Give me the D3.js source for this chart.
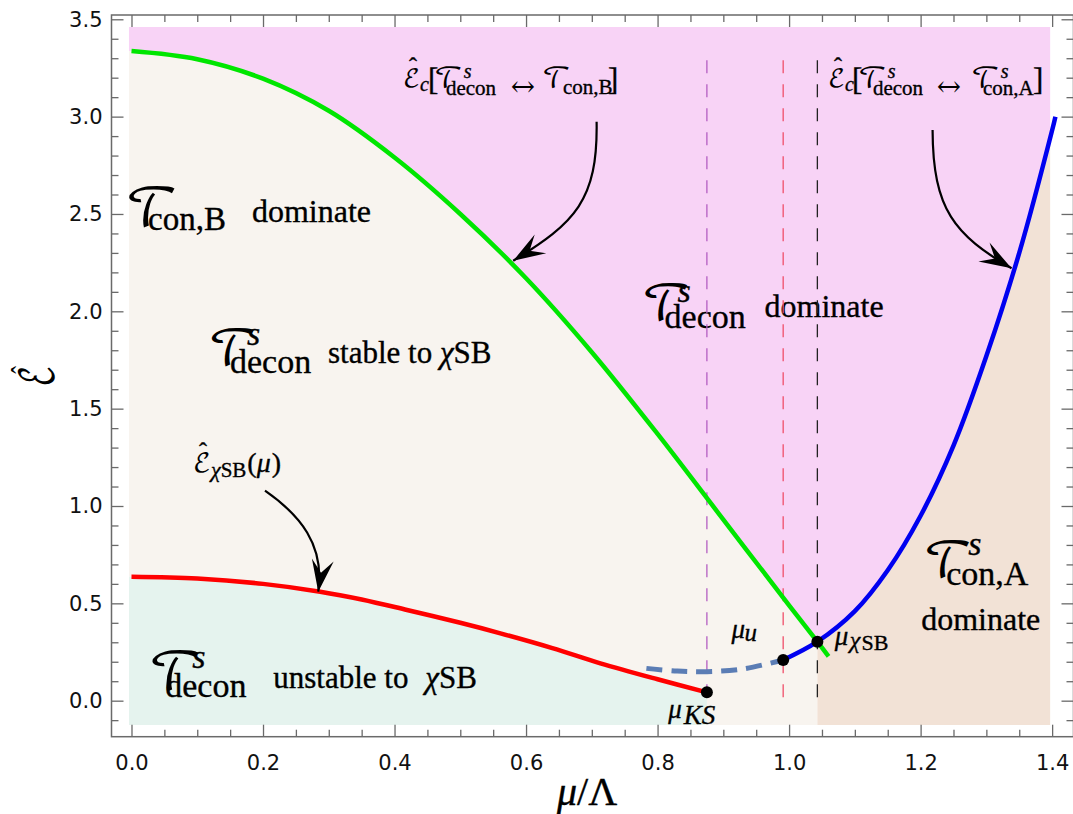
<!DOCTYPE html>
<html>
<head>
<meta charset="utf-8">
<script src="https://cdn.jsdelivr.net/npm/d3@7"></script>
<style>
  body { margin: 0; background: #fff; }
</style>
</head>
<body>
<svg id="chart" width="1073" height="814"></svg>
<script>
// Phase boundaries in the (mu/Lambda, E-hat) plane
const greenMu = [0, 0.1, 0.2, 0.3, 0.4, 0.5, 0.6, 0.7, 0.8, 0.9, 1.0, 1.043, 1.06];
const greenE  = [3.337, 3.295, 3.195, 3.03, 2.79, 2.50, 2.17, 1.79, 1.37, 0.93, 0.49, 0.303, 0.228];
const blueMu  = [0.991, 1.043, 1.1, 1.15, 1.2, 1.25, 1.3, 1.35, 1.4, 1.405];
const blueE   = [0.209, 0.303, 0.46, 0.67, 0.95, 1.31, 1.77, 2.30, 2.93, 3.0];
const redMu   = [0, 0.1, 0.2, 0.287, 0.35, 0.419, 0.5, 0.561, 0.64, 0.713, 0.8, 0.875];
const redE    = [0.637, 0.628, 0.60, 0.56, 0.52, 0.466, 0.40, 0.346, 0.27, 0.192, 0.11, 0.043];
const dashMu  = [0.783, 0.83, 0.875, 0.93, 0.991];
const dashE   = [0.166, 0.152, 0.149, 0.163, 0.209];
// special points mu_KS, mu_u, mu_chiSB
const pointMu = [0.875, 0.991, 1.043];
const pointE  = [0.043, 0.209, 0.303];
const guideMu = [0.875, 0.991, 1.043];
const guideTop = 3.29;
// extent of the shaded phase regions
const regionLeft = -0.004, regionRight = 1.397, regionTop = 3.46, regionBottom = -0.125;
// axis ticks
const xTicks = [0, 0.2, 0.4, 0.6, 0.8, 1.0, 1.2, 1.4];
const xTickLabels = ["0.0", "0.2", "0.4", "0.6", "0.8", "1.0", "1.2", "1.4"];
const yTicks = [0, 0.5, 1.0, 1.5, 2.0, 2.5, 3.0, 3.5];
const yTickLabels = ["0.0", "0.5", "1.0", "1.5", "2.0", "2.5", "3.0", "3.5"];
const xMinor = d3.range(0, 29).map(i => +(i * 0.05).toFixed(2)).filter(v => !xTicks.includes(v));
const yMinor = d3.range(-1, 36).map(i => +(i * 0.1).toFixed(1)).filter(v => !yTicks.includes(v));
// annotation arrows: cubic Bezier control points (mu, E)
const arrowCurves = [
  [[0.7073, 2.974], [0.7093, 2.569], [0.6743, 2.455], [0.5805, 2.260]],
  [[1.2182, 2.931], [1.2186, 2.520], [1.2521, 2.392], [1.3383, 2.221]],
  [[0.2030, 1.079], [0.2562, 0.954], [0.2942, 0.800], [0.2840, 0.560]]
];

const svg = d3.select("#chart");
const x = d3.scaleLinear().domain([-0.0304, 1.4325]).range([111.5, 1073.5]);
const y = d3.scaleLinear().domain([-0.185, 3.522]).range([736.7, 15]);

const zip = (a, b) => a.map((v, i) => [v, b[i]]);
const green = zip(greenMu, greenE);
const blue = zip(blueMu, blueE);
const red = zip(redMu, redE);
const dashed = zip(dashMu, dashE);
const kink = 1.043;
const greenLeft = green.filter(d => d[0] <= kink);
const blueRight = blue.filter(d => d[0] >= kink);

const line = d3.line().x(d => x(d[0])).y(d => y(d[1])).curve(d3.curveCatmullRom.alpha(0.5));

// ---- shaded regions ----
svg.append("clipPath").attr("id", "regionClip").append("rect")
  .attr("x", x(regionLeft)).attr("y", y(regionTop))
  .attr("width", x(regionRight) - x(regionLeft)).attr("height", y(regionBottom) - y(regionTop));
const regions = svg.append("g").attr("clip-path", "url(#regionClip)");

function areaPath(upper, closing) {
  // smooth upper boundary, then straight closing segments
  const p = line(upper);
  return p + closing.map(d => `L${x(d[0])},${y(d[1])}`).join("") + "Z";
}
// T_decon dominates (above green and blue)
regions.append("path").attr("fill", "#f8d3f6")
  .attr("d", areaPath(greenLeft.concat(blueRight.slice(1)),
    [[1.45, blueRight[blueRight.length - 1][1]], [1.45, regionTop], [regionLeft, regionTop], [regionLeft, greenLeft[0][1]]]));
// T_decon stable (below green, above red)
regions.append("path").attr("fill", "#f8f4ef")
  .attr("d", areaPath(greenLeft,
    [[kink, regionBottom], [redMu[redMu.length - 1], regionBottom]].concat(red.slice().reverse()).concat([[regionLeft, redE[0]], [regionLeft, greenE[0]]])));
// T_decon unstable (below red)
regions.append("path").attr("fill", "#e5f3ee")
  .attr("d", areaPath(red, [[redMu[redMu.length - 1], regionBottom], [regionLeft, regionBottom], [regionLeft, redE[0]]]));
// T_con,A dominates (below blue, right of mu_chiSB)
regions.append("path").attr("fill", "#f2e2d6")
  .attr("d", areaPath(blueRight, [[1.45, blueRight[blueRight.length - 1][1]], [1.45, regionBottom], [kink, regionBottom]]));

// ---- text labels ----
const fam = {
  r: "Liberation Serif, Times New Roman, serif",
  i: "Liberation Serif, Times New Roman, serif",
  m: "DejaVu Math TeX Gyre, STIX Two Math, DejaVu Serif, serif"
};
const T = "\u{1D4AF}", E = "\u2130", HAT = "\u02C6";
// pieces: [dx, dy, text, size, style]; dx "+k" continues after the previous piece,
// "b+k" continues after the last script glyph
function label(mu, e, pieces) {
  const g = svg.append("g").attr("transform", `translate(${x(mu)},${y(e)})`);
  let end = 0, baseEnd = 0;
  pieces.forEach(([dx, dy, t, size, st]) => {
    let px = dx;
    if (typeof dx === "string") px = (dx[0] === "b" ? baseEnd : end) + (+dx.slice(1) || 0);
    const el = g.append("text").attr("x", px).attr("y", dy)
      .style("font-size", size + "px").style("font-family", fam[st])
      .style("font-style", st === "i" ? "italic" : "normal")
      .attr("fill", "#000").attr("stroke", "#000").attr("stroke-width", st === "m" ? 0 : 0.35)
      .text(t);
    end = px + el.node().getComputedTextLength();
    if (st === "m") baseEnd = end;
  });
  return g;
}
label(-0.0099, 2.438, [[0, 0, T, 52, "m"], [23, 4, "con,B", 33, "r"], [127, -4, "dominate", 32, "r"]]);
label(0.1163, 1.724, [[0, 0, T, 48, "m"], [39, -20, "s", 34, "i"], [22, 8, "decon", 34, "r"],
  [120, -2, "stable to", 31, "r"], [232, -2, "\u03C7", 31, "i"], ["+", -2, "SB", 31, "r"]]);
label(0.0255, 0.055, [[0, 0, T, 52, "m"], [44, -22, "s", 34, "i"], [17, 7, "decon", 34, "r"],
  [125, -2, "unstable to", 31, "r"], [277, -2, "\u03C7", 31, "i"], ["+", -2, "SB", 31, "r"]]);
label(0.7757, 1.955, [[0, 0, T, 48, "m"], [36, -18, "s", 34, "i"], [23, 8, "decon", 34, "r"], [123, -3, "dominate", 32, "r"]]);
label(1.2039, 0.635, [[0, 0, T, 48, "m"], [45, -22, "s", 34, "i"], [23, 8, "con,A", 34, "r"], [-2, 53, "dominate", 32, "r"]]);
label(0.4128, 3.147, [[0, -1, E, 25, "m"], [6, -14, HAT, 24, "r"], [17, 3, "c", 20, "i"], [25, 2, "[", 31, "r"],
  [31, 0, T, 28, "m"], ["b+1", -10, "s", 20, "i"], [43, 7, "decon", 21, "r"], [107, 6, "\u2194", 26, "m"],
  [139, 0, T, 28, "m"], [160, 6, "con,B", 21, "r"], [205, 2, "]", 31, "r"]]);
label(1.0590, 3.147, [[0, -1, E, 25, "m"], [6, -14, HAT, 24, "r"], [17, 3, "c", 20, "i"], [24, 2, "[", 31, "r"],
  [30, 0, T, 28, "m"], ["b+1", -10, "s", 20, "i"], [45, 7, "decon", 21, "r"], [108, 6, "\u2194", 26, "m"],
  [143, 0, T, 28, "m"], ["b+1", -10, "s", 20, "i"], [155, 7, "con,A", 21, "r"], [205, 2, "]", 31, "r"]]);
label(0.0935, 1.176, [[0, 0, E, 26, "m"], [6, -13, HAT, 24, "r"], [18, 5, "\u03C7", 22, "i"], ["+", 5, "SB", 21, "r"],
  ["+1", 0, "(", 28, "r"], ["+", 0, "\u03BC", 28, "i"], ["+1", 0, ")", 28, "r"]]);
label(0.9126, 0.322, [[0, 0, "\u03BC", 27, "i"], [13, 3, "u", 25, "i"]]);
label(1.0696, 0.285, [[0, 0, "\u03BC", 27, "i"], [15, 3, "\u03C7", 24, "i"], ["+1", 5, "SB", 22, "r"]]);
label(0.8162, -0.089, [[0, 0, "\u03BC", 27, "i"], ["+2", 6, "KS", 27, "i"]]);

// ---- vertical guides ----
const guideColors = ["#b35ec2", "#f0506a", "#222222"];
svg.append("g").selectAll("line").data(guideMu).join("line")
  .attr("x1", d => x(d)).attr("x2", d => x(d))
  .attr("y1", y(guideTop)).attr("y2", y(0))
  .attr("stroke", (d, i) => guideColors[i]).attr("stroke-width", 1.3)
  .attr("stroke-dasharray", "13,11");

// ---- curves ----
svg.append("path").attr("d", line(red)).attr("fill", "none").attr("stroke", "#ff0000").attr("stroke-width", 4.5);
svg.append("path").attr("d", line(dashed)).attr("fill", "none").attr("stroke", "#5b7db5")
  .attr("stroke-width", 5).attr("stroke-dasharray", "16,9");
svg.append("path").attr("d", line(blue)).attr("fill", "none").attr("stroke", "#0000f0").attr("stroke-width", 4.5);
svg.append("path").attr("d", line(green)).attr("fill", "none").attr("stroke", "#00e600").attr("stroke-width", 4.5);

svg.append("g").selectAll("circle").data(zip(pointMu, pointE)).join("circle")
  .attr("cx", d => x(d[0])).attr("cy", d => y(d[1])).attr("r", 6).attr("fill", "#000");

// ---- arrows ----
const ag = svg.append("g");
arrowCurves.forEach(c => {
  const p = c.map(d => [x(d[0]), y(d[1])]);
  const path = d3.path();
  path.moveTo(p[0][0], p[0][1]);
  path.bezierCurveTo(p[1][0], p[1][1], p[2][0], p[2][1], p[3][0], p[3][1]);
  ag.append("path").attr("d", path.toString()).attr("fill", "none").attr("stroke", "#000").attr("stroke-width", 2.2);
  const ang = Math.atan2(p[3][1] - p[2][1], p[3][0] - p[2][0]) * 180 / Math.PI;
  const L = 32, W = 22;
  ag.append("path")
    .attr("d", `M0,0L${-L},${-W / 2}L${-0.6 * L},0L${-L},${W / 2}Z`)
    .attr("transform", `translate(${p[3][0]},${p[3][1]}) rotate(${ang})`)
    .attr("fill", "#000");
});

// ---- frame and axes ----
const axisColor = "#6a6a6a";
const fmtX = d => xTickLabels[xTicks.indexOf(d)];
const fmtY = d => yTickLabels[yTicks.indexOf(d)];
const [x0, x1] = x.range(), [yB, yT] = y.range();

function styleAxis(g) {
  g.select(".domain").remove();
  g.selectAll("line").attr("stroke", axisColor).attr("stroke-width", 1.3);
  g.selectAll("text").style("font-family", "DejaVu Sans, sans-serif").style("font-size", "21px").attr("fill", "#111");
}
svg.append("g").attr("transform", `translate(0,${yB})`)
  .call(d3.axisBottom(x).tickValues(xTicks).tickFormat(fmtX).tickSize(-12).tickPadding(18)).call(styleAxis);
svg.append("g").attr("transform", `translate(0,${yB})`)
  .call(d3.axisBottom(x).tickValues(xMinor).tickFormat("").tickSize(-7)).call(styleAxis);
svg.append("g").attr("transform", `translate(0,${yT})`)
  .call(d3.axisTop(x).tickValues(xTicks).tickFormat("").tickSize(-12)).call(styleAxis);
svg.append("g").attr("transform", `translate(0,${yT})`)
  .call(d3.axisTop(x).tickValues(xMinor).tickFormat("").tickSize(-7)).call(styleAxis);
svg.append("g").attr("transform", `translate(${x0},0)`)
  .call(d3.axisLeft(y).tickValues(yTicks).tickFormat(fmtY).tickSize(-12).tickPadding(9)).call(styleAxis);
svg.append("g").attr("transform", `translate(${x0},0)`)
  .call(d3.axisLeft(y).tickValues(yMinor).tickFormat("").tickSize(-7)).call(styleAxis);
svg.append("g").attr("transform", `translate(${x1},0)`)
  .call(d3.axisRight(y).tickValues(yTicks).tickFormat("").tickSize(-12)).call(styleAxis);
svg.append("g").attr("transform", `translate(${x1},0)`)
  .call(d3.axisRight(y).tickValues(yMinor).tickFormat("").tickSize(-7)).call(styleAxis);
svg.append("rect").attr("x", x0).attr("y", yT).attr("width", x1 - x0).attr("height", yB - yT)
  .attr("fill", "none").attr("stroke", axisColor).attr("stroke-width", 1.5);

// axis titles
const xt = svg.append("text").attr("x", 557).attr("y", 805).attr("fill", "#000")
  .attr("stroke", "#000").attr("stroke-width", 0.4)
  .style("font-size", "40px").style("font-family", fam.r);
xt.append("tspan").style("font-style", "italic").text("\u03BC");
xt.append("tspan").text("/\u039B");
const yt = svg.append("g").attr("transform", "translate(53,376) rotate(-90) scale(0.68,1)");
yt.append("text").attr("text-anchor", "middle").attr("fill", "#000")
  .style("font-size", "46px").style("font-family", fam.m).text(E);
yt.append("text").attr("x", 9).attr("y", -18).attr("text-anchor", "middle").attr("fill", "#000")
  .style("font-size", "34px").style("font-family", fam.r).text(HAT);
</script>
</body>
</html>
